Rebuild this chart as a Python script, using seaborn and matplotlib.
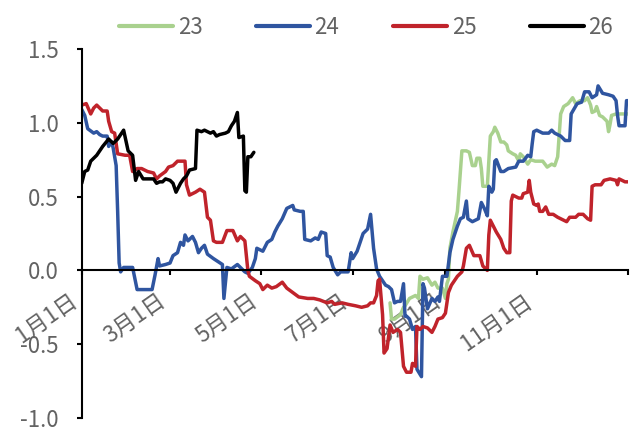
import matplotlib
matplotlib.use("Agg")
import matplotlib.pyplot as plt
import numpy as np
import pandas as pd
import seaborn as sns

# Day of year (0 = Jan 1) and value for each seasonal series
day_23 = [206, 207, 209, 213, 215, 216, 219, 223, 225, 226, 228, 231, 234, 236, 238,
          241, 243, 244, 245, 246, 248, 251, 252, 254, 257, 259, 261, 263, 264, 266,
          267, 268, 271, 273, 275, 276, 278, 280, 282, 284, 285, 288, 290, 292, 293,
          295, 298, 300, 303, 308, 311, 314, 316, 318, 320, 322, 325, 328, 330, 333,
          336, 338, 340, 341, 343, 344, 346, 348, 351, 352, 353, 354, 357, 365]
val_23 = [-0.22, -0.33, -0.33, -0.30, -0.25, -0.24, -0.19, -0.17, -0.19, -0.04, -0.06,
          -0.05, -0.10, -0.08, -0.12, -0.12, -0.19, -0.09, -0.06, 0.15, 0.26, 0.40,
          0.53, 0.81, 0.81, 0.80, 0.71, 0.71, 0.76, 0.76, 0.69, 0.57, 0.57, 0.91, 0.94,
          0.97, 0.93, 0.87, 0.87, 0.85, 0.81, 0.79, 0.78, 0.74, 0.79, 0.77, 0.72, 0.75,
          0.74, 0.74, 0.70, 0.72, 0.71, 0.77, 1.06, 1.11, 1.13, 1.17, 1.13, 1.15, 1.15,
          1.17, 1.12, 1.07, 1.08, 1.11, 1.05, 1.04, 1.01, 0.94, 0.99, 1.05, 1.06, 1.06]

day_24 = [0, 2, 4, 8, 10, 12, 14, 17, 18, 20, 21, 23, 24, 25, 26, 28, 34, 37, 47, 49,
          51, 52, 56, 59, 61, 64, 66, 68, 69, 71, 74, 76, 78, 80, 82, 84, 88, 91, 94,
          95, 97, 100, 104, 106, 109, 111, 114, 116, 117, 121, 124, 127, 129, 131, 134,
          137, 141, 142, 146, 148, 149, 153, 156, 158, 160, 163, 164, 166, 168, 171,
          173, 178, 180, 181, 184, 186, 188, 191, 193, 195, 197, 199, 203, 205, 207,
          209, 211, 213, 215, 216, 217, 219, 221, 223, 224, 227, 228, 229, 231, 234,
          236, 238, 239, 241, 244, 246, 248, 251, 253, 255, 257, 258, 261, 265, 267,
          269, 271, 272, 274, 275, 276, 277, 280, 282, 285, 290, 292, 295, 298, 300,
          301, 302, 304, 308, 312, 314, 316, 320, 323, 326, 327, 331, 334, 336, 339,
          341, 344, 345, 348, 352, 355, 357, 358, 359, 363, 364, 365]
val_24 = [1.09, 1.05, 0.96, 0.93, 0.94, 0.92, 0.91, 0.91, 0.84, 0.87, 0.83, 0.71, 0.40,
          0.05, -0.01, 0.02, 0.02, -0.13, -0.13, -0.03, 0.08, 0.03, 0.04, 0.05, 0.10,
          0.12, 0.19, 0.17, 0.24, 0.20, 0.23, 0.19, 0.12, 0.15, 0.17, 0.11, 0.08, 0.06,
          0.04, -0.19, 0.02, 0.01, 0.04, 0.02, -0.01, -0.02, 0.02, 0.08, 0.15, 0.13,
          0.19, 0.21, 0.26, 0.30, 0.35, 0.42, 0.44, 0.41, 0.40, 0.40, 0.21, 0.20, 0.22,
          0.21, 0.26, 0.25, 0.10, 0.09, 0.02, -0.03, -0.01, -0.01, 0.12, 0.08, 0.13,
          0.19, 0.25, 0.28, 0.38, 0.15, 0.01, -0.04, -0.10, -0.11, -0.13, -0.22, -0.21,
          -0.21, -0.09, -0.31, -0.31, -0.33, -0.40, -0.38, -0.67, -0.72, -0.09, -0.12,
          -0.26, -0.19, -0.21, -0.18, -0.21, -0.04, -0.04, 0.12, 0.21, 0.30, 0.35, 0.36,
          0.47, 0.35, 0.33, 0.35, 0.46, 0.42, 0.37, 0.57, 0.53, 0.55, 0.74, 0.75, 0.67,
          0.67, 0.69, 0.70, 0.74, 0.74, 0.78, 0.77, 0.86, 0.94, 0.95, 0.93, 0.93, 0.95,
          0.93, 0.91, 0.88, 0.88, 1.06, 1.13, 1.14, 1.21, 1.21, 1.17, 1.19, 1.25, 1.20,
          1.19, 1.18, 1.15, 1.05, 0.98, 0.98, 1.15, 1.15]

day_25 = [0, 3, 6, 8, 10, 12, 14, 17, 18, 20, 22, 24, 29, 32, 34, 37, 40, 44, 48, 50,
          52, 56, 58, 61, 64, 67, 69, 70, 72, 76, 79, 82, 84, 86, 88, 90, 94, 97, 101,
          104, 106, 109, 111, 112, 116, 119, 121, 124, 127, 130, 134, 137, 141, 145,
          151, 155, 159, 164, 167, 169, 174, 178, 183, 187, 191, 193, 195, 197, 198,
          199, 201, 202, 204, 206, 208, 211, 213, 215, 217, 220, 221, 223, 224, 226,
          228, 231, 234, 236, 238, 241, 243, 245, 247, 249, 251, 254, 255, 257, 259,
          262, 266, 268, 271, 272, 273, 275, 277, 280, 282, 284, 286, 287, 288, 292,
          294, 295, 298, 299, 300, 302, 304, 305, 306, 308, 310, 312, 315, 318, 322,
          324, 326, 330, 332, 335, 338, 340, 341, 343, 347, 349, 353, 357, 358, 359,
          361, 363, 365]
val_25 = [1.12, 1.13, 1.06, 1.10, 1.12, 1.10, 1.08, 1.08, 1.01, 0.94, 0.93, 0.79, 0.78,
          0.78, 0.67, 0.69, 0.69, 0.67, 0.66, 0.62, 0.64, 0.67, 0.70, 0.71, 0.74, 0.74,
          0.74, 0.58, 0.51, 0.53, 0.55, 0.53, 0.36, 0.34, 0.20, 0.19, 0.19, 0.27, 0.27,
          0.20, 0.23, 0.20, 0.00, -0.04, -0.07, -0.09, -0.13, -0.10, -0.12, -0.11,
          -0.08, -0.12, -0.15, -0.18, -0.19, -0.19, -0.20, -0.22, -0.21, -0.23, -0.22,
          -0.23, -0.24, -0.25, -0.24, -0.22, -0.22, -0.17, -0.07, -0.06, -0.30, -0.56,
          -0.53, -0.37, -0.42, -0.40, -0.42, -0.65, -0.69, -0.69, -0.63, -0.65, -0.38,
          -0.40, -0.38, -0.39, -0.42, -0.38, -0.33, -0.32, -0.29, -0.15, -0.10, -0.07,
          -0.04, -0.01, 0.03, 0.15, 0.17, 0.10, 0.10, 0.03, 0.00, 0.24, 0.34, 0.30,
          0.26, 0.21, 0.15, 0.12, 0.12, 0.47, 0.51, 0.49, 0.49, 0.52, 0.53, 0.61, 0.53,
          0.45, 0.44, 0.45, 0.40, 0.40, 0.43, 0.38, 0.38, 0.36, 0.34, 0.33, 0.36, 0.36,
          0.38, 0.38, 0.35, 0.34, 0.57, 0.58, 0.58, 0.61, 0.62, 0.61, 0.58, 0.62, 0.61,
          0.60, 0.60]

day_26 = [0, 2, 4, 6, 10, 14, 18, 21, 24, 28, 31, 34, 36, 38, 41, 44, 48, 50, 52, 54,
          56, 59, 61, 63, 66, 68, 70, 72, 76, 77, 80, 82, 86, 88, 90, 92, 96, 98, 100,
          102, 104, 105, 108, 109, 110, 111, 113, 115]
val_26 = [0.59, 0.67, 0.68, 0.74, 0.78, 0.84, 0.89, 0.86, 0.89, 0.95, 0.81, 0.78, 0.61,
          0.67, 0.62, 0.62, 0.62, 0.59, 0.60, 0.60, 0.62, 0.61, 0.59, 0.53, 0.59, 0.62,
          0.64, 0.68, 0.69, 0.95, 0.94, 0.95, 0.93, 0.94, 0.91, 0.92, 0.93, 0.94, 0.98,
          1.01, 1.07, 0.90, 0.91, 0.54, 0.53, 0.77, 0.77, 0.80]

series_names = ["23", "24", "25", "26"]
series_colors = ["#A9D18E", "#2F55A0", "#C0232B", "#000000"]
tick_labels = ["1月1日", "3月1日", "5月1日", "7月1日", "9月1日", "11月1日", ""]

frames = []
for name, d, v in zip(series_names,
                      [day_23, day_24, day_25, day_26],
                      [val_23, val_24, val_25, val_26]):
    frames.append(pd.DataFrame({"day": d, "value": v, "series": name}))
df = pd.concat(frames, ignore_index=True)

sns.set_style("white")
plt.rcParams["font.family"] = ["Noto Sans CJK SC", "DejaVu Sans"]
plt.rcParams["font.weight"] = "light"
text_grey = "#636363"

fig = plt.figure(figsize=(6.37, 4.28), dpi=100)
ax = fig.add_axes([0.1283, 0.0234, 0.8576, 0.8621])

sns.lineplot(data=df, x="day", y="value", hue="series", hue_order=series_names,
             palette=dict(zip(series_names, series_colors)), estimator=None,
             linewidth=2.5, ax=ax)
for line in ax.get_lines():
    line.set_solid_joinstyle("round")
    line.set_solid_capstyle("round")

# Bimonthly date ticks across one calendar year (Jan 1 to the next Jan 1)
base = pd.Timestamp("2001-01-01")
tick_dates = pd.date_range(base, periods=7, freq="2MS")
tick_days = list((tick_dates - base).days)
ax.set_xticks(tick_days)
ax.set_xticklabels(tick_labels)
ax.set_xlim(0, 365)
ax.set_ylim(-1.0, 1.5)
yticks = np.arange(-1.0, 1.51, 0.5)
ax.set_yticks(yticks)
ax.set_yticklabels([f"{t:.1f}" for t in yticks])
ax.set_xlabel("")
ax.set_ylabel("")

for side in ("top", "right"):
    ax.spines[side].set_visible(False)
ax.spines["bottom"].set_position(("data", 0))
for side in ("left", "bottom"):
    ax.spines[side].set_linewidth(1.5)
    ax.spines[side].set_color("black")

ax.tick_params(axis="y", direction="out", length=3.6, width=1.5, color="black",
               pad=13, labelsize=16, labelcolor=text_grey, left=True)
ax.tick_params(axis="x", direction="out", length=3.6, width=1.5, color="black",
               pad=10, labelsize=16, labelcolor=text_grey, bottom=True)
for lbl in ax.get_xticklabels():
    lbl.set_rotation(35)
    lbl.set_ha("right")
    lbl.set_va("top")
for lbl in ax.get_yticklabels():
    lbl.set_va("center_baseline")

sns.move_legend(ax, "center", bbox_to_anchor=(366 / 637, 1 - 27 / 428),
                bbox_transform=fig.transFigure, ncol=4, frameon=False, title=None,
                fontsize=16, handlelength=2.45, handletextpad=0.2, columnspacing=2.4,
                labelcolor=text_grey)
for h in ax.get_legend().get_lines():
    h.set_linewidth(3)

fig.savefig("out.png", dpi=100)
